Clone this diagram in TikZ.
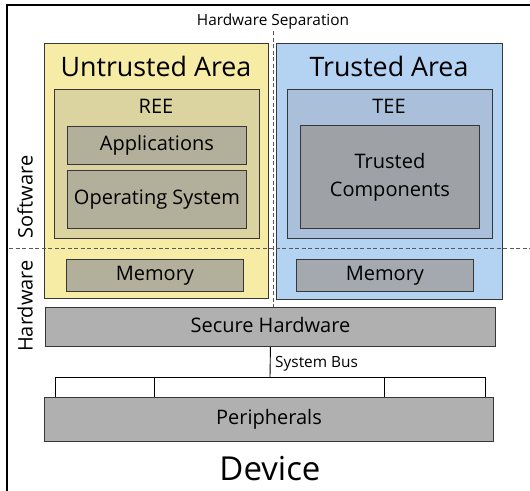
\documentclass[tikz,border=0pt]{standalone}
\usepackage{fontspec}
\setmainfont{Open Sans}
\usetikzlibrary{positioning}

\definecolor{untrfill}{RGB}{246,236,166}
\definecolor{reefill}{RGB}{219,212,160}
\definecolor{appfill}{RGB}{178,176,154}
\definecolor{trfill}{RGB}{180,211,243}
\definecolor{teefill}{RGB}{170,191,217}
\definecolor{tcfill}{RGB}{158,161,166}
\definecolor{memfill}{RGB}{164,169,176}
\definecolor{hwfill}{RGB}{176,176,176}
\definecolor{edge}{RGB}{55,55,55}

\tikzset{
  box/.style={draw=edge, line width=0.9pt, rectangle, anchor=north west, inner sep=0pt},
  bigtxt/.style={font=\fontsize{26.8}{30}\selectfont, inner sep=0pt},
  midtxt/.style={font=\fontsize{20}{28}\selectfont, inner sep=0pt, align=center},
  smalltxt/.style={font=\fontsize{15.4}{18}\selectfont, inner sep=0pt},
  sep/.style={draw=black!65, dashed, dash pattern=on 4pt off 2.5pt, line width=0.9pt},
  frame/.style={draw=black, line width=1.6pt},
  bus/.style={draw=black, line width=0.9pt}
}

\begin{document}
\begin{tikzpicture}[x=1pt,y=-1pt]
\useasboundingbox (0,0) rectangle (530,490);

% device frame
\draw[frame] (7,492) -- (7,5) -- (532,5);

% areas
\node[box, fill=untrfill, minimum width=224pt, minimum height=255pt] (untr) at (44,43) {};
\node[box, fill=trfill, minimum width=226pt, minimum height=256pt] (tr) at (276,43) {};
\node[bigtxt] (untrlbl) at (156,66) {Untrusted Area};
\node[bigtxt] (trlbl) at (389,66) {Trusted Area};

% execution environments
\node[box, fill=reefill, minimum width=205pt, minimum height=149pt] (ree) at (54,89) {};
\node[box, fill=teefill, minimum width=205pt, minimum height=149pt] (tee) at (287,89) {};
\node[midtxt] (reelbl) at (156,106) {REE};
\node[midtxt] (teelbl) at (389,106) {TEE};

\node[box, fill=appfill, minimum width=179pt, minimum height=38pt] (apps) at (67,126) {};
\node[midtxt] at (apps.center) {Applications};
\node[box, fill=appfill, minimum width=179pt, minimum height=58pt] (os) at (67,170) {};
\node[midtxt] at (os.center) {Operating System};
\node[box, fill=tcfill, minimum width=179pt, minimum height=103pt] (tc) at (300,125) {};
\node[midtxt] at (tc.center) {Trusted\\Components};

% memories
\node[box, fill=appfill, minimum width=177pt, minimum height=32pt] (memL) at (66,259) {};
\node[midtxt] at (memL.center) {Memory};
\node[box, fill=memfill, minimum width=177pt, minimum height=32pt] (memR) at (296,259) {};
\node[midtxt] at (memR.center) {Memory};

% hardware
\node[box, fill=hwfill, minimum width=450pt, minimum height=39pt] (sechw) at (45,307) {};
\node[midtxt] at ([yshift=1.5pt]sechw.center) {Secure Hardware};
\node[box, fill=hwfill, minimum width=449pt, minimum height=44pt] (periph) at (44,397) {};
\node[midtxt] at (periph.center) {Peripherals};

% separations
\coordinate (sepT) at (273,31);
\draw[sep] (sepT) -- (sepT |- sechw.north);
\coordinate (swhwL) at (9,248);
\coordinate (swhwR) at (532,248);
\draw[sep] (swhwL) -- (swhwR);
\node[smalltxt] (seplbl) at (273,21) {Hardware Separation};
\node[midtxt, rotate=90] (swlbl) at (25,197) {Software};
\node[midtxt, rotate=90] (hwlbl) at (25,306) {Hardware};

% system bus
\coordinate (bus) at (270,377);
\coordinate (busA) at (55,377);
\coordinate (busB) at (154,377);
\coordinate (busC) at (384,377);
\coordinate (busD) at (485,377);
\draw[bus] (sechw.south) -- (bus);
\draw[bus] (busA) -- (busD);
\foreach \b in {busA,busB,busC,busD}
  \draw[bus] (\b) -- (\b |- periph.north);
\node[smalltxt, anchor=west] (buslbl) at (275,364) {System Bus};

\node[font=\fontsize{33}{36}\selectfont, inner sep=0pt] (device) at (270,469) {Device};
\end{tikzpicture}
\end{document}
